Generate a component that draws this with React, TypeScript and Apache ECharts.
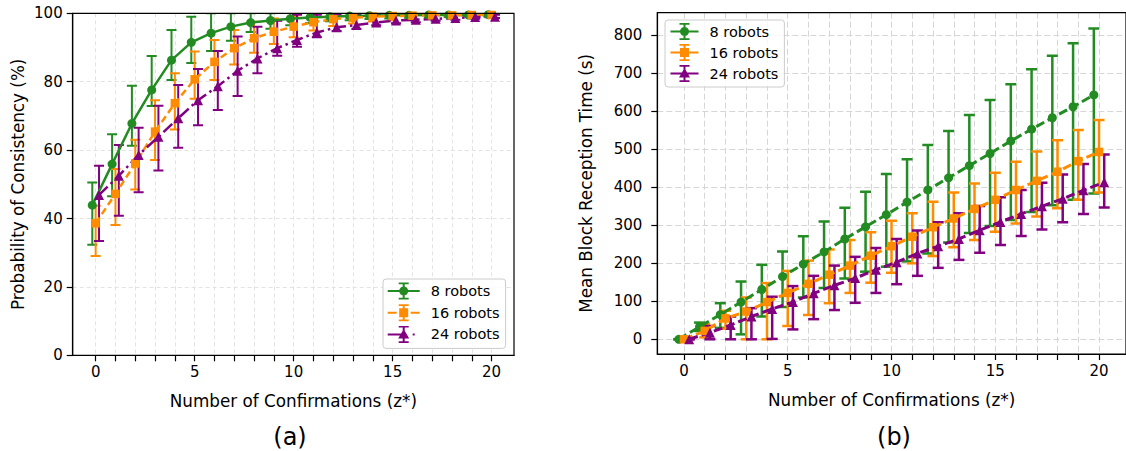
import React, { useEffect, useRef } from "react";
import * as echarts from "echarts";

// ---------- data ----------
const zValues = [0, 1, 2, 3, 4, 5, 6, 7, 8, 9, 10, 11, 12, 13, 14, 15, 16, 17, 18, 19, 20];
const xTickValues = zValues;
const xLabelValues = [0, 5, 10, 15, 20];
const yTicksB = [0, 100, 200, 300, 400, 500, 600, 700, 800];
const seriesNames = ["8 robots", "16 robots", "24 robots"];

// (a) Probability of Consistency (%)
const consist8 = [43.9, 55.9, 67.8, 77.6, 86.3, 91.5, 94.2, 96.1, 97.3, 97.9, 98.4, 98.8, 99.0, 99.2, 99.3, 99.4, 99.4, 99.5, 99.5, 99.5, 99.6];
const consist8Low = [32.3, 46.5, 61.3, 72.9, 80.5, 85.5, 89.0, 92.0, 94.5, 95.5, 96.5, 97.2, 97.7, 98.0, 98.3, 98.5, 98.7, 98.8, 98.9, 99.0, 99.1];
const consist8High = [50.5, 64.6, 78.8, 87.5, 95.1, 99.0, 100.0, 100.0, 100.0, 100.0, 100.3, 100.4, 100.3, 100.4, 100.3, 100.3, 100.1, 100.2, 100.1, 100.0, 100.1];

const consist16 = [38.6, 47.2, 56.1, 65.4, 73.7, 80.7, 85.8, 89.8, 92.7, 94.6, 96.1, 97.4, 98.3, 98.7, 99.0, 99.2, 99.3, 99.4, 99.4, 99.5, 99.5];
const consist16Low = [29.0, 38.1, 48.5, 57.1, 66.0, 75.0, 80.5, 85.0, 88.5, 91.0, 93.0, 95.0, 96.3, 97.0, 97.6, 98.0, 98.3, 98.5, 98.7, 98.9, 99.0];
const consist16High = [43.7, 54.5, 63.0, 74.6, 82.5, 88.8, 92.2, 95.1, 97.5, 98.5, 99.2, 99.8, 100.2, 100.3, 100.4, 100.4, 100.3, 100.3, 100.2, 100.1, 100.0];

const consist24 = [46.9, 52.5, 58.6, 63.9, 69.3, 74.6, 78.7, 83.2, 86.8, 89.8, 92.2, 94.4, 95.9, 96.6, 97.3, 97.9, 98.1, 98.4, 98.6, 98.9, 99.0];
const consist24Low = [33.4, 40.8, 47.7, 54.0, 60.7, 67.3, 71.7, 75.8, 82.5, 87.6, 90.2, 93.0, 94.8, 95.5, 96.5, 97.1, 97.4, 97.8, 98.1, 98.4, 98.6];
const consist24High = [55.4, 61.5, 66.5, 73.0, 79.0, 83.7, 89.0, 93.2, 96.1, 97.8, 99.6, 99.6, 99.6, 99.6, 99.6, 99.6, 99.6, 99.6, 99.6, 99.6, 99.6];

// (b) Mean Block Reception Time (s)
const time8 = [0, 33, 65, 98, 131, 165, 198, 230, 264, 296, 328, 361, 393, 425, 457, 489, 522, 553, 583, 612, 643];
const time8Low = [0, 22, 30, 13, 60, 85, 110, 135, 160, 178, 191, 205, 226, 255, 280, 298, 314, 335, 353, 367, 384];
const time8High = [0, 44, 95, 152, 196, 231, 271, 310, 346, 388, 435, 474, 511, 548, 590, 630, 671, 711, 746, 779, 818];

const time16 = [0, 22, 55, 73, 98, 122, 146, 170, 194, 220, 245, 270, 295, 318, 343, 367, 393, 417, 441, 469, 493];
const time16Low = [0, 5, 28, 0, 0, 35, 64, 95, 122, 149, 175, 200, 219, 242, 261, 283, 305, 323, 345, 367, 386];
const time16High = [0, 40, 75, 110, 148, 180, 207, 236, 261, 282, 312, 332, 362, 386, 410, 438, 467, 494, 524, 551, 577];

const time24 = [0, 17.5, 37.6, 60, 80, 98, 121, 142, 161, 183, 203, 226, 245, 264, 287, 309, 330, 350, 370, 392, 413];
const time24Low = [0, 0, 0, 0, 1, 26, 53, 77, 96, 122, 145, 167, 188, 209, 228, 248, 272, 289, 308, 330, 347];
const time24High = [0, 35, 60, 82, 112, 140, 167, 194, 217, 240, 264, 286, 308, 332, 351, 374, 393, 412, 434, 461, 486];

// ---------- style ----------
const GREEN = "#228B22";
const ORANGE = "#FF8C00";
const PURPLE = "#800080";
const FONT = "DejaVu Sans";

const bar = (cx: number, w: number) =>
  `M${cx - 1},0h2v17h-2z M${cx - w / 2},0h${w}v1.7h-${w}z M${cx - w / 2},15.3h${w}v1.7h-${w}z`;
const circ = (cx: number, cy: number, r: number) =>
  `M${cx - r},${cy} a${r},${r} 0 1,1 ${2 * r},0 a${r},${r} 0 1,1 ${-2 * r},0 z`;

const iconA = [
  "path://M0,7.5h32v2h-32z " + bar(16, 10) + " " + circ(16, 8.5, 4.5),
  "path://M0,7.5h9v2h-9z M23,7.5h9v2h-9z " + bar(16, 10) + " M11.5,4h9v9h-9z",
  "path://M0,7.5h14v2h-14z M25,7.5h2v2h-2z M31.99,8h0.01v1h-0.01z " + bar(16, 10) + " M16,3 L21.5,12.5 L10.5,12.5 Z",
];
const iconB = [
  "path://M0,7.5h28v2h-28z " + bar(14, 10) + " " + circ(14, 8.5, 4.5),
  "path://M0,7.5h28v2h-28z " + bar(14, 10) + " M9.5,4h9v9h-9z",
  "path://M0,7.5h28v2h-28z " + bar(14, 10) + " M14,3 L19.5,12.5 L8.5,12.5 Z",
];

function errSeries(gi: number, offset: number, lo: number[], hi: number[], color: string, cap: number, lw: number) {
  return {
    type: "custom",
    xAxisIndex: gi,
    yAxisIndex: gi,
    clip: true,
    silent: true,
    encode: { x: 0, y: [1, 2] },
    data: zValues.map((z, i) => [z + offset, lo[i], hi[i]]),
    renderItem: (_p: any, api: any) => {
      const x = api.value(0);
      const top = api.coord([x, api.value(2)]);
      const bot = api.coord([x, api.value(1)]);
      const style = { stroke: color, lineWidth: lw, fill: "none" };
      return {
        type: "group",
        children: [
          { type: "line", shape: { x1: top[0], y1: top[1], x2: bot[0], y2: bot[1] }, style },
          { type: "line", shape: { x1: top[0] - cap, y1: top[1], x2: top[0] + cap, y2: top[1] }, style },
          { type: "line", shape: { x1: bot[0] - cap, y1: bot[1], x2: bot[0] + cap, y2: bot[1] }, style },
        ],
      };
    },
  };
}

function lineSeries(gi: number, name: string, offset: number, vals: number[], color: string, symbol: string, size: number, dash: any, lw: number) {
  return {
    type: "line",
    name,
    xAxisIndex: gi,
    yAxisIndex: gi,
    data: zValues.map((z, i) => [z + offset, vals[i]]),
    symbol,
    symbolSize: size,
    showAllSymbol: true,
    clip: true,
    silent: true,
    lineStyle: { color, width: lw, type: dash },
    itemStyle: { color, borderWidth: 0 },
  };
}

function xAxisCfg(gi: number, min: number, max: number) {
  return {
    type: "value",
    gridIndex: gi,
    min,
    max,
    axisLine: { show: true, onZero: false, lineStyle: { color: "#000", width: 1.2 } },
    axisTick: { show: true, customValues: xTickValues, length: 6, lineStyle: { color: "#000", width: 1.2 } },
    axisLabel: { customValues: xLabelValues, margin: 9, fontSize: 15, color: "#000", fontFamily: FONT },
    splitLine: { show: true, lineStyle: { color: gi === 0 ? "#e3e3e3" : "#d6d6d6", type: gi === 0 ? [4, 3] : [6, 3], width: 1 } },
    name: "Number of Confirmations (z*)",
    nameLocation: "middle",
    nameGap: 37,
    nameTextStyle: { fontSize: 16.8, color: "#000", fontFamily: FONT },
  };
}

export default function App() {
  const ref = useRef<HTMLDivElement>(null);
  useEffect(() => {
    if (!ref.current) return;
    const chart = echarts.init(ref.current, null, { renderer: "svg" });
    const legendCommon = {
      orient: "vertical",
      itemWidth: 32,
      itemHeight: 17,
      selectedMode: false,
      backgroundColor: "rgba(255,255,255,0.8)",
      borderColor: "#cccccc",
      borderWidth: 1,
      borderRadius: 3,
      itemStyle: { borderWidth: 0 },
      textStyle: { fontSize: 14.5, color: "#000", fontFamily: FONT, padding: [0, 0, 0, 6] },
    };
    chart.setOption({
      animation: false,
      backgroundColor: "#fff",
      grid: [
        { left: 72.7, top: 13.3, width: 441.3, height: 342, show: true, z: 10, borderColor: "#000", borderWidth: 1.2, backgroundColor: "transparent" },
        { left: 657.3, top: 12.7, width: 474.3, height: 341.3, show: true, z: 10, borderColor: "#000", borderWidth: 1.2, backgroundColor: "transparent" },
      ],
      xAxis: [xAxisCfg(0, -1.16, 21.13), xAxisCfg(1, -1.286, 21.3)],
      yAxis: [
        {
          type: "value",
          gridIndex: 0,
          min: 0,
          max: 100,
          interval: 20,
          axisLine: { show: true, onZero: false, lineStyle: { color: "#000", width: 1.2 } },
          axisTick: { show: true, length: 6, lineStyle: { color: "#000", width: 1.2 } },
          axisLabel: { margin: 10, fontSize: 15, color: "#000", fontFamily: FONT },
          splitLine: { show: true, lineStyle: { color: "#e3e3e3", type: [4, 3], width: 1 } },
          name: "Probability of Consistency (%)",
          nameLocation: "middle",
          nameGap: 46,
          nameTextStyle: { fontSize: 16.8, color: "#000", fontFamily: FONT },
        },
        {
          type: "value",
          gridIndex: 1,
          min: -38.7,
          max: 859.5,
          axisLine: { show: true, onZero: false, lineStyle: { color: "#000", width: 1.2 } },
          axisTick: { show: true, customValues: yTicksB, length: 6, lineStyle: { color: "#000", width: 1.2 } },
          axisLabel: { customValues: yTicksB, margin: 15, fontSize: 15, color: "#000", fontFamily: FONT },
          splitLine: { show: true, lineStyle: { color: "#d6d6d6", type: [6, 3], width: 1 } },
          name: "Mean Block Reception Time (s)",
          nameLocation: "middle",
          nameGap: 63,
          nameTextStyle: { fontSize: 16.8, color: "#000", fontFamily: FONT },
        },
      ],
      legend: [
        {
          ...legendCommon,
          left: 383,
          top: 279,
          padding: [3.5, 6, 5.5, 4.7],
          itemGap: 4.7,
          data: seriesNames.map((n, i) => ({ name: n, icon: iconA[i] })),
        },
        {
          ...legendCommon,
          left: 665,
          top: 20,
          itemWidth: 28,
          padding: [3, 6, 5, 5.5],
          itemGap: 4,
          data: seriesNames.map((n, i) => ({ name: n, icon: iconB[i] })),
        },
      ],
      graphic: [
        { type: "text", x: 290, y: 437, style: { text: "(a)", font: `24px '${FONT}'`, fill: "#000", align: "center", verticalAlign: "middle" } },
        { type: "text", x: 894, y: 437, style: { text: "(b)", font: `24px '${FONT}'`, fill: "#000", align: "center", verticalAlign: "middle" } },
      ],
      series: [
        errSeries(0, -0.17, consist8Low, consist8High, GREEN, 5, 2),
        lineSeries(0, seriesNames[0], -0.17, consist8, GREEN, "circle", 9, "solid", 2.5),
        errSeries(0, 0, consist16Low, consist16High, ORANGE, 5, 2),
        lineSeries(0, seriesNames[1], 0, consist16, ORANGE, "rect", 8.5, [7, 4], 2.5),
        errSeries(0, 0.17, consist24Low, consist24High, PURPLE, 5, 2),
        lineSeries(0, seriesNames[2], 0.17, consist24, PURPLE, "triangle", 10, [12, 4, 2.5, 4], 2.5),

        errSeries(1, -0.25, time8Low, time8High, GREEN, 5.5, 2.5),
        lineSeries(1, seriesNames[0], -0.25, time8, GREEN, "circle", 9, [9, 4], 3),
        errSeries(1, 0, time16Low, time16High, ORANGE, 5.5, 2.5),
        lineSeries(1, seriesNames[1], 0, time16, ORANGE, "rect", 8.5, [9, 4], 3),
        errSeries(1, 0.25, time24Low, time24High, PURPLE, 5.5, 2.5),
        lineSeries(1, seriesNames[2], 0.25, time24, PURPLE, "triangle", 10, [9, 4], 3),
      ],
    });
    return () => chart.dispose();
  }, []);
  return <div ref={ref} style={{ position: "absolute", left: 0, top: 0, width: 1126, height: 451 }} />;
}
